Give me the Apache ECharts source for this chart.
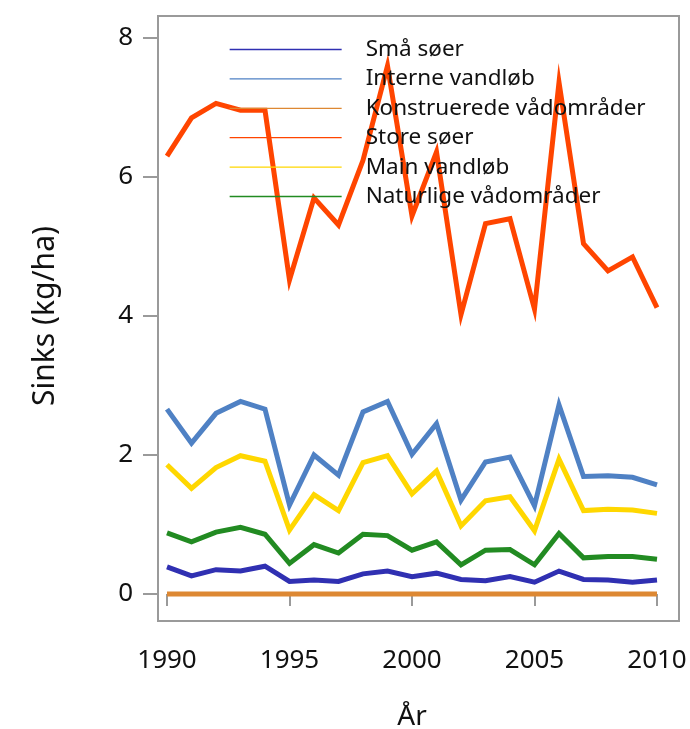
<!DOCTYPE html>
<html>
<head>
<meta charset="utf-8">
<script src="https://cdn.jsdelivr.net/npm/echarts@6/dist/echarts.min.js"></script>
<style>
  html, body { margin: 0; padding: 0; background: #fff; }
  #chart { width: 690px; height: 729px; }
</style>
</head>
<body>
<div id="chart"></div>
<script>
const years = [1990, 1991, 1992, 1993, 1994, 1995, 1996, 1997, 1998, 1999, 2000,
  2001, 2002, 2003, 2004, 2005, 2006, 2007, 2008, 2009, 2010];

const smaSoer = [0.39, 0.26, 0.35, 0.33, 0.40, 0.18, 0.20, 0.18, 0.29, 0.33, 0.25,
  0.30, 0.21, 0.19, 0.25, 0.17, 0.33, 0.21, 0.20, 0.17, 0.20];
const interneVandlob = [2.66, 2.17, 2.60, 2.77, 2.66, 1.28, 2.00, 1.71, 2.62, 2.77, 2.01,
  2.45, 1.35, 1.90, 1.97, 1.27, 2.72, 1.69, 1.70, 1.68, 1.57];
const konstrueredeVaad = [0, 0, 0, 0, 0, 0, 0, 0, 0, 0, 0,
  0, 0, 0, 0, 0, 0, 0, 0, 0, 0];
const storeSoer = [6.30, 6.85, 7.06, 6.96, 6.96, 4.52, 5.70, 5.31, 6.24, 7.60, 5.44,
  6.36, 4.02, 5.33, 5.40, 4.10, 7.36, 5.04, 4.65, 4.85, 4.12];
const mainVandlob = [1.86, 1.52, 1.82, 1.99, 1.91, 0.92, 1.43, 1.20, 1.89, 1.99, 1.44,
  1.77, 0.98, 1.34, 1.40, 0.91, 1.94, 1.20, 1.22, 1.21, 1.16];
const naturligeVaad = [0.88, 0.75, 0.89, 0.96, 0.86, 0.44, 0.71, 0.59, 0.86, 0.84, 0.63,
  0.75, 0.42, 0.63, 0.64, 0.42, 0.87, 0.52, 0.54, 0.54, 0.50];

const yTicks = [0, 2, 4, 6, 8];
const xTicks = [1990, 1995, 2000, 2005, 2010];

const font = "Noto Sans";
const gray = "#9a9a9a";

function pairs(arr) {
  return years.map((y, i) => [y, arr[i]]);
}

function line(name, arr, color) {
  return {
    name: name,
    type: "line",
    xAxisIndex: 0,
    yAxisIndex: 0,
    symbol: "none",
    clip: false,
    lineStyle: { color: color, width: 5, join: "miter" },
    itemStyle: { color: color },
    data: pairs(arr)
  };
}

const chart = echarts.init(document.getElementById("chart"));
chart.setOption({
  backgroundColor: "#fff",
  animation: false,
  textStyle: { fontFamily: font },
  grid: [
    // data area
    { left: 167, right: 33, top: 38, bottom: 135, outerBoundsMode: "none", containLabel: false },
    // frame box
    { left: 158, right: 11, top: 16, bottom: 108, outerBoundsMode: "none", show: true, borderColor: gray, borderWidth: 2, backgroundColor: "transparent", z: 0 }
  ],
  legend: {
    orient: "vertical",
    left: 229,
    top: 38,
    padding: 0,
    itemWidth: 112,
    itemHeight: 18,
    itemGap: 6.4,
    itemStyle: { opacity: 0 },
    lineStyle: { width: 1.3 },
    textStyle: { fontFamily: font, fontSize: 22.5, color: "#111", padding: [0, 0, 0, 19] },
    data: ["Små søer", "Interne vandløb", "Konstruerede vådområder", "Store søer", "Main vandløb", "Naturlige vådområder"]
  },
  xAxis: [
    {
      type: "value",
      gridIndex: 0,
      min: 1990,
      max: 2010,
      interval: 5,
      offset: 27,
      name: "År",
      nameLocation: "middle",
      nameGap: 82,
      nameTextStyle: { fontFamily: font, fontSize: 28, color: "#111" },
      axisLine: { show: false },
      axisTick: { show: true, length: 12, lineStyle: { color: gray, width: 2 } },
      axisLabel: {
        margin: 27,
        fontFamily: font,
        fontSize: 26,
        color: "#111",
        formatter: v => (xTicks.indexOf(v) >= 0 ? String(v) : "")
      },
      splitLine: { show: false }
    },
    { type: "value", gridIndex: 1, show: false, min: 0, max: 1 }
  ],
  yAxis: [
    {
      type: "value",
      gridIndex: 0,
      min: 0,
      max: 8,
      interval: 2,
      offset: 9,
      name: "Sinks (kg/ha)",
      nameLocation: "middle",
      nameGap: 98,
      nameTextStyle: { fontFamily: font, fontSize: 30, color: "#111" },
      axisLine: { show: false },
      axisTick: { show: true, length: 15, lineStyle: { color: gray, width: 2 } },
      axisLabel: {
        margin: 25,
        fontFamily: font,
        fontSize: 26,
        color: "#111",
        formatter: v => (yTicks.indexOf(v) >= 0 ? String(v) : "")
      },
      splitLine: { show: false }
    },
    { type: "value", gridIndex: 1, show: false, min: 0, max: 1 }
  ],
  series: [
    line("Konstruerede vådområder", konstrueredeVaad, "#DD8833"),
    line("Små søer", smaSoer, "#3030B2"),
    line("Naturlige vådområder", naturligeVaad, "#228B22"),
    line("Main vandløb", mainVandlob, "#FFD700"),
    line("Interne vandløb", interneVandlob, "#4F81C4"),
    line("Store søer", storeSoer, "#FF4500")
  ]
});
</script>
</body>
</html>
